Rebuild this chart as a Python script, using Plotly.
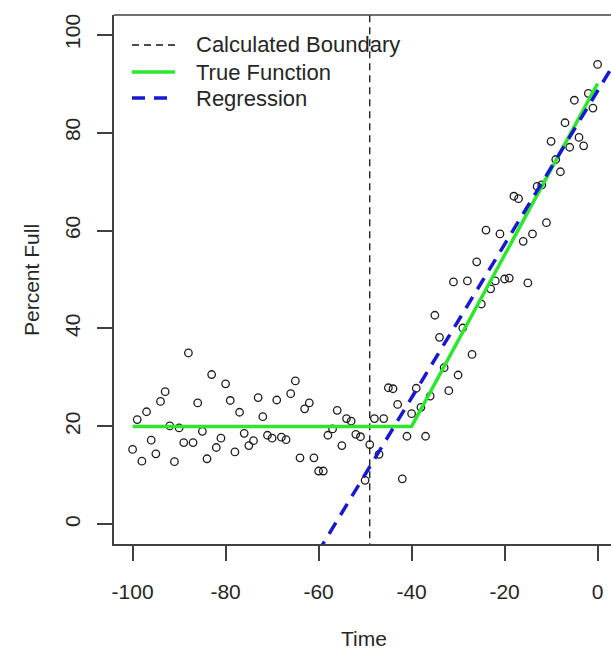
import plotly.graph_objects as go

# ---- data ----
time = list(range(-100, 1))
percent_full = [
    15.3, 21.4, 12.9, 23.0, 17.2, 14.4, 25.1, 27.1, 20.1, 12.8,   # -100..-91
    19.7, 16.7, 35.0, 16.7, 24.8, 19.0, 13.4, 30.6, 15.7, 17.6,   # -90..-81
    28.7, 25.3, 14.8, 22.9, 18.6, 16.1, 17.1, 25.9, 22.0, 18.2,   # -80..-71
    17.6, 25.4, 17.8, 17.3, 26.7, 29.3, 13.6, 23.6, 24.8, 13.6,   # -70..-61
    10.9, 10.9, 18.2, 19.5, 23.3, 16.1, 21.6, 21.1, 18.4, 17.9,   # -60..-51
    9.0, 16.3, 21.6, 14.3, 21.6, 27.9, 27.7, 24.5, 9.3, 18.0,     # -50..-41
    22.6, 27.8, 23.9, 18.0, 26.2, 42.7, 38.2, 32.0, 27.3, 49.5,   # -40..-31
    30.5, 40.1, 49.7, 34.7, 53.6, 45.0, 60.1, 48.1, 49.7, 59.3,   # -30..-21
    50.1, 50.3, 67.0, 66.5, 57.8, 49.3, 59.3, 69.0, 69.3, 61.6,   # -20..-11
    78.2, 74.5, 72.0, 82.0, 77.0, 86.6, 79.0, 77.3, 88.0, 85.0,   # -10..-1
    93.9,                                                         # 0
]

true_x = [-100, -40, 0]
true_y = [20, 20, 90]

boundary = -49.0
reg_intercept = 88.5
reg_slope = 1.566
reg_x = [-70, 10]
reg_y = [reg_intercept + reg_slope * v for v in reg_x]

x_ticks = [-100, -80, -60, -40, -20, 0]
x_tick_text = ["-100", "-80", "-60", "-40", "-20", "0"]
y_ticks = [0, 20, 40, 60, 80, 100]
y_tick_text = ["0", "20", "40", "60", "80", "100"]

legend_labels = ["Calculated Boundary", "True Function", "Regression"]

# ---- figure ----
FONT = "Liberation Sans, Arial, sans-serif"
TXT = "#262626"
AX = "#404040"

fig = go.Figure()
fig.add_trace(go.Scatter(
    x=time, y=percent_full, mode="markers",
    marker=dict(symbol="circle-open", size=7.5, color="#1e1e1e", line=dict(width=1.3)),
    showlegend=False, hoverinfo="skip"))
fig.add_trace(go.Scatter(
    x=[boundary, boundary], y=[-20, 120], mode="lines",
    line=dict(color="#111111", width=1.3, dash="7px,5px"),
    showlegend=False, hoverinfo="skip"))
fig.add_trace(go.Scatter(
    x=true_x, y=true_y, mode="lines",
    line=dict(color="#2ee62e", width=3.5),
    showlegend=False, hoverinfo="skip"))
fig.add_trace(go.Scatter(
    x=reg_x, y=reg_y, mode="lines",
    line=dict(color="#1818d0", width=3.5, dash="13px,9px"),
    showlegend=False, hoverinfo="skip"))

# legend drawn manually (R style, no box)
W, H = 611, 652
L, R, T, B = 114, 0, 15, 108
pw, ph = W - L - R, H - T - B

def px_x(p):
    return (p - L) / pw

def px_y(p):
    return (H - B - p) / ph

leg_styles = [
    dict(color="#111111", width=1.5, dash="7px,5px"),
    dict(color="#2ee62e", width=3.5),
    dict(color="#1818d0", width=3.5, dash="13px,9px"),
]
leg_rows = [45, 72, 98]
shapes = []
annotations = []
for lab, sty, row in zip(legend_labels, leg_styles, leg_rows):
    shapes.append(dict(type="line", xref="paper", yref="paper",
                       x0=px_x(132), x1=px_x(175), y0=px_y(row), y1=px_y(row),
                       line=sty))
    annotations.append(dict(text=lab, xref="paper", yref="paper",
                            x=px_x(194), y=px_y(row), xanchor="left", yanchor="middle",
                            showarrow=False, font=dict(family=FONT, size=22, color=TXT)))

# top border of the box
shapes.append(dict(type="line", xref="paper", yref="paper", x0=0, x1=1.02, y0=1, y1=1,
                   line=dict(color=AX, width=1.6)))

annotations.append(dict(text="Time", xref="paper", yref="paper",
                        x=px_x(364), y=px_y(638), xanchor="center", yanchor="middle",
                        showarrow=False, font=dict(family=FONT, size=21, color=TXT)))
annotations.append(dict(text="Percent Full", xref="paper", yref="paper",
                        x=px_x(31), y=px_y(280), xanchor="center", yanchor="middle",
                        textangle=-90, showarrow=False,
                        font=dict(family=FONT, size=21, color=TXT)))

fig.update_layout(
    width=W, height=H,
    margin=dict(l=L, r=R, t=T, b=B, pad=0),
    paper_bgcolor="white", plot_bgcolor="white",
    showlegend=False,
    shapes=shapes, annotations=annotations,
    font=dict(family=FONT, size=21, color=TXT),
)
fig.update_xaxes(
    range=[-104, -104 + pw / 4.65], tickvals=x_ticks, ticktext=x_tick_text,
    ticks="outside", ticklen=15, tickwidth=1.5, tickcolor=AX,
    showline=True, linecolor=AX, linewidth=1.6,
    showgrid=False, zeroline=False, ticklabelstandoff=13,
    tickfont=dict(family=FONT, size=21, color=TXT))
fig.update_yaxes(
    range=[-4, 104], tickvals=y_ticks, ticktext=y_tick_text, tickangle=-90,
    ticks="outside", ticklen=15, tickwidth=1.5, tickcolor=AX,
    showline=True, linecolor=AX, linewidth=1.6,
    showgrid=False, zeroline=False, ticklabelstandoff=9,
    tickfont=dict(family=FONT, size=21, color=TXT))

fig.write_html("out.html")
